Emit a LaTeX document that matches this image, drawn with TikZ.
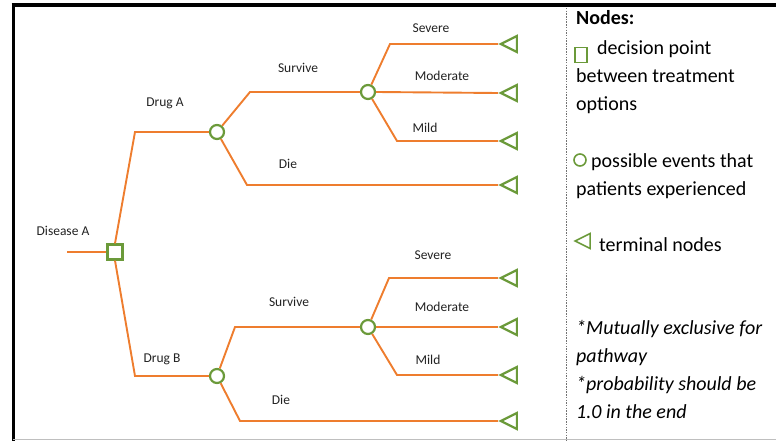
\documentclass[tikz,border=0pt]{standalone}
\usepackage{fontspec}
\setmainfont{Carlito}
\usetikzlibrary{shapes.geometric}
\definecolor{org}{HTML}{EE7D2E}
\definecolor{grn}{HTML}{6B9A3A}
\definecolor{lab}{HTML}{222222}
\begin{document}
\begin{tikzpicture}[x=1pt,y=-1pt,
  br/.style={draw=org, line width=1.9pt},
  decbox/.style={draw=grn, line width=2.2pt, fill=white, rectangle, minimum size=15pt, inner sep=0pt},
  chance/.style={draw=grn, line width=2.2pt, fill=white, circle, minimum size=14pt, inner sep=0pt},
  term/.style={draw=grn, line width=2.2pt, isosceles triangle, shape border rotate=180, isosceles triangle stretches, minimum width=16pt, minimum height=16pt, inner sep=0pt, anchor=apex},
  lbl/.style={font=\fontsize{13.5}{16}\selectfont, text=lab, inner sep=0pt},
  leg/.style={font=\fontsize{20}{24}\selectfont, text=black, anchor=base west, inner sep=0pt},
]
\useasboundingbox (0,0) rectangle (776,441);
% frame
\draw[black, line width=3pt] (13,441) -- (13,5);
\draw[black, line width=4pt] (11.5,5) -- (776,5);
\draw[black!25, line width=0.8pt] (13,439.5) -- (776,439.5);
\draw[black!55, line width=0.8pt, dash pattern=on 1.5pt off 1.2pt] (566,8) -- (566,441);

% nodes
\node[decbox] (dec) at (115,252) {};
\node[chance] (cA) at (217,132) {};
\node[chance] (cB) at (217,376) {};
\node[chance] (sA) at (368,92) {};
\node[chance] (sB) at (368,327) {};
\node[term] (t1) at (498,44) {};
\node[term] (t2) at (498,93) {};
\node[term] (t3) at (498,141) {};
\node[term] (t4) at (498,185) {};
\node[term] (t5) at (498,278) {};
\node[term] (t6) at (498,327) {};
\node[term] (t7) at (498,375) {};
\node[term] (t8) at (498,421) {};

% bend coordinates
\coordinate (start) at (67,252);
\coordinate (bA) at (135,132);
\coordinate (bB) at (135,376);
\coordinate (pAs) at (250,92);
\coordinate (pAd) at (247,185);
\coordinate (pBs) at (235,327);
\coordinate (pBd) at (240,421);
\coordinate (q1) at (390,44);
\coordinate (q3) at (397,141);
\coordinate (q4) at (389,278);
\coordinate (q6) at (397,375);

% connectors
\draw[br] (start) -- (dec.west);
\draw[br] (dec.north) -- (bA) -- (cA.west);
\draw[br] (dec.south) -- (bB) -- (cB.west);
\draw[br] (cA) -- (pAs) -- (sA.west);
\draw[br] (cA) -- (pAd) -- (t4.apex);
\draw[br] (cB) -- (pBs) -- (sB.west);
\draw[br] (cB) -- (pBd) -- (t8.apex);
\draw[br] (sA) -- (q1) -- (t1.apex);
\draw[br] (sA.east) -- (t2.apex);
\draw[br] (sA) -- (q3) -- (t3.apex);
\draw[br] (sB) -- (q4) -- (t5.apex);
\draw[br] (sB.east) -- (t6.apex);
\draw[br] (sB) -- (q6) -- (t7.apex);

% branch labels
\node[lbl] (lDis) at (63,231) {Disease A};
\node[lbl] (lDA) at (165,103) {Drug A};
\node[lbl] (lDB) at (162,359) {Drug B};
\node[lbl] (lSA) at (298,68) {Survive};
\node[lbl] (lDieA) at (288,164) {Die};
\node[lbl] (lSB) at (289,302) {Survive};
\node[lbl] (lDieB) at (281,400) {Die};
\node[lbl] (lSevA) at (431,28) {Severe};
\node[lbl] (lModA) at (442,76) {Moderate};
\node[lbl] (lMilA) at (425,128) {Mild};
\node[lbl] (lSevB) at (433,255) {Severe};
\node[lbl] (lModB) at (442,307) {Moderate};
\node[lbl] (lMilB) at (428,360) {Mild};

% legend
\node[leg, font=\fontsize{20}{24}\selectfont\bfseries] (g0) at (576,25) {Nodes:};
\node[draw=grn, line width=1.5pt, minimum width=12pt, minimum height=15pt, inner sep=0pt] (gsq) at (581,55) {};
\node[leg] (g1) at (597,55) {decision point};
\node[leg] (g2) at (576,83) {between treatment};
\node[leg] (g3) at (576,111) {options};
\node[draw=grn, line width=1.6pt, circle, minimum size=12pt, inner sep=0pt] (gci) at (580,160) {};
\node[leg] (g4) at (591,167) {possible events that};
\node[leg] (g5) at (576,195) {patients experienced};
\node[draw=grn, line width=1.6pt, isosceles triangle, shape border rotate=180, isosceles triangle stretches, minimum width=15pt, minimum height=15pt, inner sep=0pt, anchor=apex] (gtr) at (573,241) {};
\node[leg] (g6) at (599,251) {terminal nodes};
\node[leg, font=\fontsize{20}{24}\selectfont\itshape] (g7) at (576,334) {*Mutually exclusive for};
\node[leg, font=\fontsize{20}{24}\selectfont\itshape] (g8) at (576,362) {pathway};
\node[leg, font=\fontsize{20}{24}\selectfont\itshape] (g9) at (576,390) {*probability should be};
\node[leg, font=\fontsize{20}{24}\selectfont\itshape] (g10) at (576,418) {1.0 in the end};
\end{tikzpicture}
\end{document}
